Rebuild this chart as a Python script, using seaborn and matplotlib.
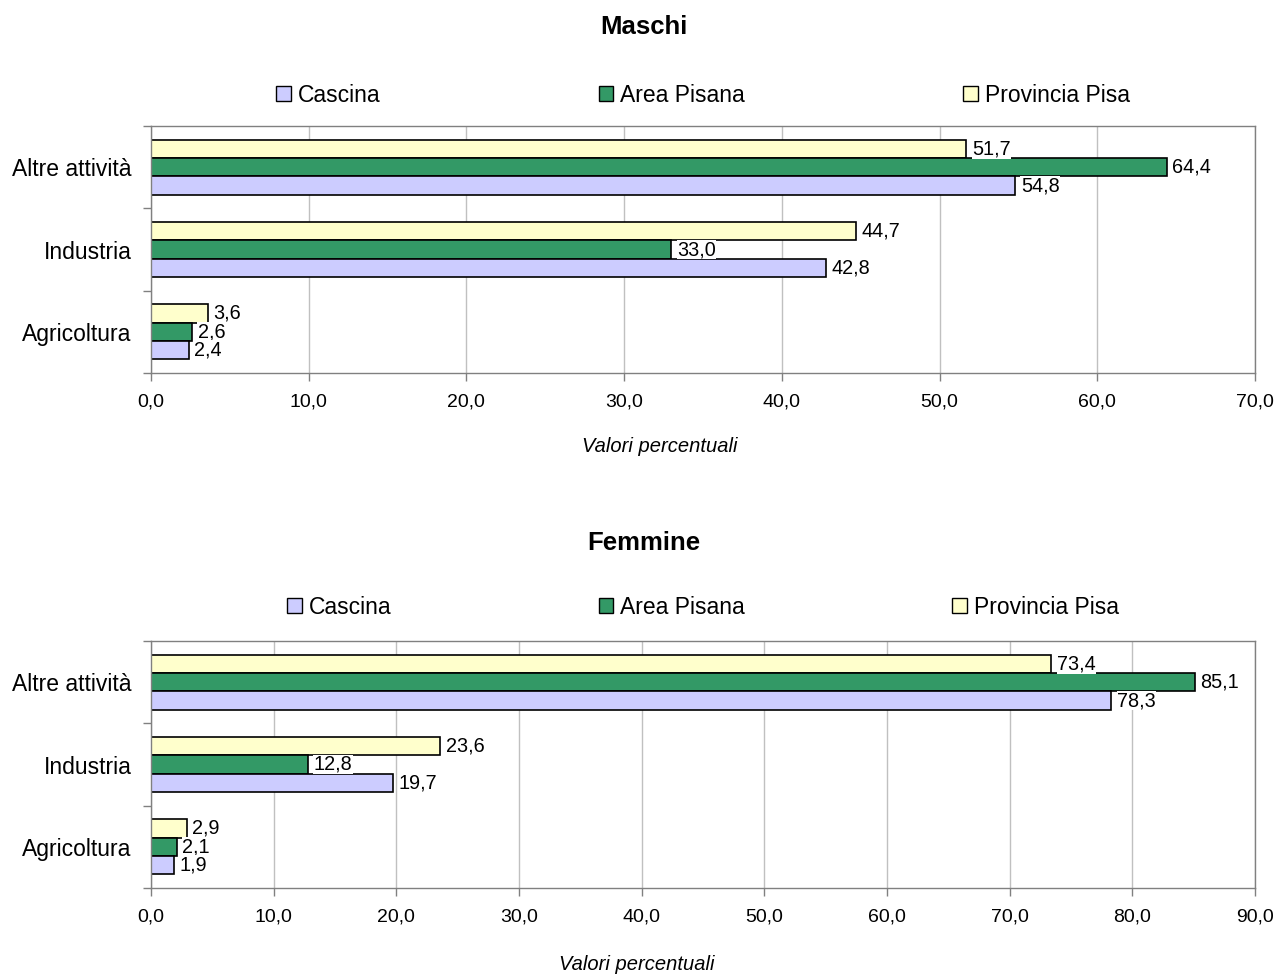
import numpy as np
import pandas as pd
import matplotlib
matplotlib.use("Agg")
import matplotlib.pyplot as plt
import seaborn as sns
from matplotlib.patches import Patch

# ---- data ----
categories = ['Altre attività', 'Industria', 'Agricoltura']
series = ['Cascina', 'Area Pisana', 'Provincia Pisa']
maschi_cascina = [54.8, 42.8, 2.4]
maschi_area = [64.4, 33.0, 2.6]
maschi_prov = [51.7, 44.7, 3.6]
femmine_cascina = [78.3, 19.7, 1.9]
femmine_area = [85.1, 12.8, 2.1]
femmine_prov = [73.4, 23.6, 2.9]
titles = ['Maschi', 'Femmine']
xmaxes = [70, 90]

colors = {'Cascina': '#CCCCFF', 'Area Pisana': '#339966', 'Provincia Pisa': '#FFFFCC'}

sns.set_style("white")
plt.rcParams['font.family'] = ['Liberation Sans', 'DejaVu Sans']
plt.rcParams['text.color'] = 'black'
plt.rcParams['xtick.labelcolor'] = 'black'
plt.rcParams['ytick.labelcolor'] = 'black'

fig = plt.figure(figsize=(12.77, 9.74), dpi=100)
W, H = 1277, 974


def make_df(c, a, p):
    rows = []
    for i, cat in enumerate(categories):
        rows.append((cat, 'Cascina', c[i]))
        rows.append((cat, 'Area Pisana', a[i]))
        rows.append((cat, 'Provincia Pisa', p[i]))
    return pd.DataFrame(rows, columns=['cat', 'serie', 'val'])


panels = [
    (make_df(maschi_cascina, maschi_area, maschi_prov), 126, 373, 27, 95, 447, 660, 9.5),
    (make_df(femmine_cascina, femmine_area, femmine_prov), 641, 888, 543, 607, 964, 637, 9.05),
]

left_px, right_px = 151, 1255
for k, (df, top, bot, ty, ly, xly, xlx, colsp) in enumerate(panels):
    ax = fig.add_axes([left_px / W, 1 - bot / H, (right_px - left_px) / W, (bot - top) / H])
    sns.barplot(data=df, y='cat', x='val', hue='serie', order=categories,
                hue_order=['Provincia Pisa', 'Area Pisana', 'Cascina'],
                palette=colors, orient='h', width=0.67, edgecolor='black',
                linewidth=1.2, saturation=1, errorbar=None, legend=False, ax=ax)
    for cont in ax.containers:
        ax.bar_label(cont, fmt=lambda v: f"{v:.1f}".replace('.', ','), padding=4,
                     fontsize=14.3, color='black',
                     bbox=dict(facecolor='white', edgecolor='none', pad=0.3))
    xmax = xmaxes[k]
    ax.set_xlim(0, xmax)
    ticks = np.arange(0, xmax + 1, 10)
    ax.set_xticks(ticks)
    ax.set_xticklabels([f"{t:.1f}".replace('.', ',') for t in ticks])
    ax.set_ylim(2.5, -0.5)
    ax.set_yticks([0, 1, 2])
    ax.set_yticklabels(categories)
    ax.set_yticks([-0.5, 0.5, 1.5, 2.5], minor=True)
    ax.tick_params(axis='y', which='major', length=0, pad=14, labelsize=16.5)
    ax.tick_params(axis='y', which='minor', length=6, color='#808080', width=1,
                   direction='out', left=True)
    ax.tick_params(axis='x', length=6, color='#808080', width=1, direction='out',
                   bottom=True, pad=9, labelsize=14)
    ax.grid(axis='x', color='#c0c0c0', lw=1)
    ax.set_axisbelow(True)
    for s in ax.spines.values():
        s.set_color('#808080')
        s.set_linewidth(1)
    ax.set_xlabel('')
    ax.set_ylabel('')
    ax.text((xlx - left_px) / (right_px - left_px), -(xly - bot) / (bot - top),
            'Valori percentuali', transform=ax.transAxes, ha='center', va='center',
            fontsize=14.5, style='italic', color='black')
    handles = [Patch(facecolor=colors[s], edgecolor='black', label=s) for s in series]
    ax.legend(handles=handles, loc='center', bbox_to_anchor=(0.5, 1 + (top - ly) / (bot - top)),
              ncol=3, frameon=False, fontsize=16.5, columnspacing=colsp,
              handlelength=0.65, handleheight=0.65, handletextpad=0.3, borderaxespad=0,
              labelcolor='black')
    fig.text(644 / W, 1 - ty / H, titles[k], ha='center', va='center',
             fontsize=18.5, fontweight='bold', color='black')

fig.savefig('out.png', dpi=100)
